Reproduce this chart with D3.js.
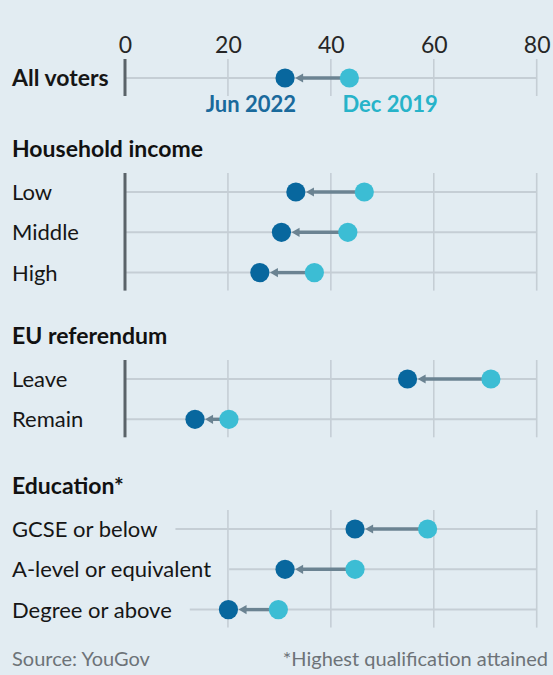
<!DOCTYPE html>
<html>
<head>
<meta charset="utf-8">
<script src="https://cdn.jsdelivr.net/npm/d3@7/dist/d3.min.js"></script>
<style>
  html, body { margin: 0; padding: 0; background: #e2ecf2; }
  svg { display: block; font-family: Lato, "Noto Sans", sans-serif; }
</style>
</head>
<body>
<svg id="chart" width="553" height="675"></svg>
<script>
// ---- data ----
const groups = ["All voters", "Household income", "EU referendum", "Education*"];
const categories = ["All voters", "Low", "Middle", "High", "Leave", "Remain",
  "GCSE or below", "A-level or equivalent", "Degree or above"];
const categoryGroup = [0, 1, 1, 1, 2, 2, 3, 3, 3];
const dec2019 = [43.6, 46.5, 43.3, 36.8, 71.1, 20.2, 58.8, 44.7, 29.8];
const jun2022 = [31.1, 33.2, 30.4, 26.2, 54.9, 13.6, 44.7, 31.1, 20.1];
const seriesNames = ["Jun 2022", "Dec 2019"];
const tickValues = [0, 20, 40, 60, 80];
const sourceNote = "Source: YouGov";
const footNote = "*Highest qualification attained";

// ---- layout ----
const W = 553, H = 675;
const svg = d3.select("#chart");
svg.append("rect").attr("width", W).attr("height", H).attr("fill", "#e2ecf2");

const x = d3.scaleLinear().domain([0, 80]).range([125, 536.7]);
const groupFirstY = [78, 192, 379, 529];
const rowStep = 40.3;
const idxInGroup = categories.map((c, i) => categoryGroup.slice(0, i).filter(g => g === categoryGroup[i]).length);
const rowY = categories.map((c, i) => groupFirstY[categoryGroup[i]] + idxInGroup[i] * rowStep);

const darkCol = "#08679e", lightCol = "#3cbdd4";
const gridCol = "#c5ced5", zeroCol = "#5a6369", arrowCol = "#6b8392";
const r = 9.6;

// top tick labels via axis
const axis = d3.axisTop(x).tickValues(tickValues).tickSize(0).tickPadding(0).tickFormat(d3.format("d"));
const axG = svg.append("g").attr("transform", "translate(0,52.5)").call(axis);
axG.select(".domain").remove();
axG.selectAll("text").attr("font-size", 23).attr("font-weight", 400).attr("fill", "#262626")
  .attr("font-family", "Lato, sans-serif").attr("dy", 0).attr("y", 0);

// panels
const labelsG = svg.append("g");
groups.forEach((g, gi) => {
  const rows = categories.map((c, i) => i).filter(i => categoryGroup[i] === gi);
  const y0 = rowY[rows[0]] - 19, y1 = rowY[rows[rows.length - 1]] + 18;
  const pg = svg.append("g");
  if (gi > 0) {
    labelsG.append("text").attr("x", 12).attr("y", rowY[rows[0]] - 43).attr("dy", "0.35em")
      .attr("font-size", 23).attr("font-weight", 700).attr("fill", "#111").text(g);
  }
  const labelEnds = {};
  rows.forEach(i => {
    const t = labelsG.append("text").attr("x", 12).attr("y", rowY[i]).attr("dy", "0.36em")
      .attr("font-size", gi === 0 ? 23 : 22).attr("font-weight", gi === 0 ? 700 : 400)
      .attr("fill", "#161616").text(categories[i]);
    labelEnds[i] = 12 + t.node().getComputedTextLength();
  });
  const isEdu = gi === 3;
  pg.selectAll("line.grid").data(tickValues.filter(v => v > 0)).enter().append("line")
    .attr("x1", d => x(d)).attr("x2", d => x(d)).attr("y1", y0).attr("y2", y1)
    .attr("stroke", gridCol).attr("stroke-width", 1.6);
  rows.forEach(i => {
    const start = isEdu ? labelEnds[i] + 18 : x(0);
    pg.append("line").attr("x1", start).attr("x2", x(80)).attr("y1", rowY[i]).attr("y2", rowY[i])
      .attr("stroke", gridCol).attr("stroke-width", 2);
  });
  if (!isEdu) {
    pg.append("line").attr("x1", x(0)).attr("x2", x(0)).attr("y1", y0).attr("y2", y1)
      .attr("stroke", zeroCol).attr("stroke-width", 3);
  }
});

// arrows and dots
const marks = svg.append("g");
categories.forEach((c, i) => {
  const y = rowY[i];
  const xs = x(dec2019[i]) - r + 1, xe = x(jun2022[i]) + r + 0.5;
  const headLen = 8, headHalf = 4.6;
  marks.append("line").attr("x1", xs).attr("x2", xe + headLen - 1).attr("y1", y).attr("y2", y)
    .attr("stroke", arrowCol).attr("stroke-width", 3.4);
  marks.append("path")
    .attr("d", `M${xe},${y} L${xe + headLen},${y - headHalf} L${xe + headLen},${y + headHalf} Z`)
    .attr("fill", arrowCol);
  marks.append("circle").attr("cx", x(dec2019[i])).attr("cy", y).attr("r", r).attr("fill", lightCol);
  marks.append("circle").attr("cx", x(jun2022[i])).attr("cy", y).attr("r", r).attr("fill", darkCol);
});

// legend labels under "All voters"
svg.append("text").attr("x", x(jun2022[0]) + 11).attr("y", 111.5).attr("text-anchor", "end")
  .attr("font-size", 22).attr("font-weight", 700).attr("fill", "#1a6a9c").text(seriesNames[0]);
svg.append("text").attr("x", x(dec2019[0]) - 7).attr("y", 111.5).attr("text-anchor", "start")
  .attr("font-size", 22).attr("font-weight", 700).attr("fill", "#27b3c9").text(seriesNames[1]);

// footer
svg.append("text").attr("x", 12).attr("y", 665.5).attr("font-size", 20).attr("font-weight", 400)
  .attr("fill", "#6d7378").text(sourceNote);
svg.append("text").attr("x", 548).attr("y", 665.5).attr("text-anchor", "end")
  .attr("font-size", 20).attr("font-weight", 400).attr("fill", "#6d7378").text(footNote);
</script>
</body>
</html>
